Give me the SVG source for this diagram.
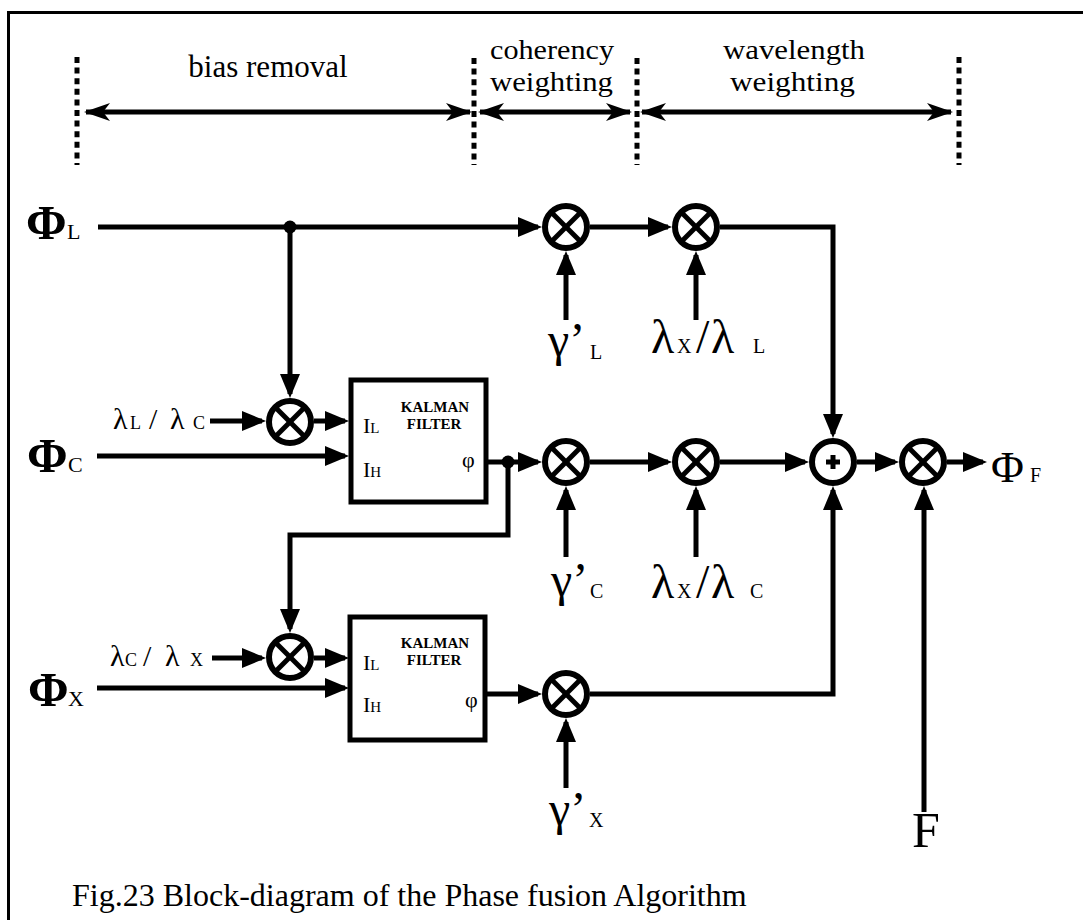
<svg xmlns="http://www.w3.org/2000/svg" width="1083" height="920" viewBox="0 0 1083 920">
<style>
text{font-family:"Liberation Serif","Times New Roman",serif;fill:#000}
.hd{font-size:31px;text-anchor:middle}
.hd2{font-size:28px}
.ln{fill:none;stroke:#000;stroke-width:5}
.dot{fill:none;stroke:#000;stroke-width:5;stroke-dasharray:6 4.6}
.mul circle,.add circle{fill:#fff;stroke:#000;stroke-width:6}
.mul line,.add line{stroke:#000;stroke-width:5}
.box rect{fill:#fff;stroke:#000;stroke-width:5}
.phi{font-size:49px;font-weight:bold}
.sub{font-size:22px;font-weight:normal}
.big{font-size:48px}
.bs{font-size:20px}
.lam{font-size:30px}
.ls{font-size:18px}
.kf{font-size:15px;font-weight:bold;text-anchor:middle}
.io{font-size:22px}
.ios{font-size:15px}
.cap{font-size:32px}
</style>
<defs>
<marker id="ah" viewBox="0 0 24 20" refX="20" refY="10" markerWidth="24" markerHeight="20" markerUnits="userSpaceOnUse" orient="auto"><path d="M0,0 L24,10 L0,20 Z" fill="#000"/></marker>
<marker id="dh" viewBox="0 0 26 18" refX="24" refY="9" markerWidth="26" markerHeight="18" markerUnits="userSpaceOnUse" orient="auto-start-reverse"><path d="M0,0 L26,9 L0,18 L7,9 Z" fill="#000"/></marker>
</defs>
<rect x="8.5" y="12.5" width="1100" height="1000" fill="#fff" stroke="#000" stroke-width="3"/>

<g id="header">
<line class="dot" x1="77" y1="57" x2="77" y2="165"/>
<line class="dot" x1="474" y1="58" x2="474" y2="165"/>
<line class="dot" x1="637" y1="58" x2="637" y2="165"/>
<line class="dot" x1="959" y1="57" x2="959" y2="165"/>
<path class="ln" d="M86,112 H470" marker-start="url(#dh)" marker-end="url(#dh)"/>
<path class="ln" d="M480,112 H630" marker-start="url(#dh)" marker-end="url(#dh)"/>
<path class="ln" d="M642,112 H951" marker-start="url(#dh)" marker-end="url(#dh)"/>
<text class="hd" x="268" y="77">bias removal</text>
<text class="hd2" x="490" y="59" textLength="124" lengthAdjust="spacingAndGlyphs">coherency</text>
<text class="hd2" x="490" y="91" textLength="123" lengthAdjust="spacingAndGlyphs">weighting</text>
<text class="hd2" x="723" y="59" textLength="142" lengthAdjust="spacingAndGlyphs">wavelength</text>
<text class="hd2" x="730" y="91" textLength="125" lengthAdjust="spacingAndGlyphs">weighting</text>
</g>

<g id="connectors">
<path class="ln" d="M98,227 H538" marker-end="url(#ah)"/>
<path class="ln" d="M290,227 V394" marker-end="url(#ah)"/>
<path class="ln" d="M590,227 H668" marker-end="url(#ah)"/>
<path class="ln" d="M720,227 H833 V434" marker-end="url(#ah)"/>
<path class="ln" d="M210,421 H262" marker-end="url(#ah)"/>
<path class="ln" d="M314,421 H345" marker-end="url(#ah)"/>
<path class="ln" d="M97,456 H345" marker-end="url(#ah)"/>
<path class="ln" d="M486,462 H538" marker-end="url(#ah)"/>
<path class="ln" d="M508,462 V535 H290 V629" marker-end="url(#ah)"/>
<path class="ln" d="M590,462 H668" marker-end="url(#ah)"/>
<path class="ln" d="M720,462 H805" marker-end="url(#ah)"/>
<path class="ln" d="M857,462 H895" marker-end="url(#ah)"/>
<path class="ln" d="M947,462 H983" marker-end="url(#ah)"/>
<path class="ln" d="M212,658 H262" marker-end="url(#ah)"/>
<path class="ln" d="M314,658 H345" marker-end="url(#ah)"/>
<path class="ln" d="M97,688 H345" marker-end="url(#ah)"/>
<path class="ln" d="M485,694 H538" marker-end="url(#ah)"/>
<path class="ln" d="M590,694 H833 V490" marker-end="url(#ah)"/>
<path class="ln" d="M566,320 V255" marker-end="url(#ah)"/>
<path class="ln" d="M696,320 V255" marker-end="url(#ah)"/>
<path class="ln" d="M566,557 V490" marker-end="url(#ah)"/>
<path class="ln" d="M696,557 V490" marker-end="url(#ah)"/>
<path class="ln" d="M566,788 V722" marker-end="url(#ah)"/>
<path class="ln" d="M924,812 V490" marker-end="url(#ah)"/>
<circle cx="290" cy="227" r="6.5" fill="#000"/>
<circle cx="508" cy="462" r="6.5" fill="#000"/>
</g>

<g id="in-phiL"><text class="phi" x="26" y="239">Φ<tspan class="sub" x="67">L</tspan></text></g>
<g id="in-phiC"><text class="phi" x="27" y="472">Φ<tspan class="sub" x="68">C</tspan></text></g>
<g id="in-phiX"><text class="phi" x="28" y="706">Φ<tspan class="sub" x="68">X</tspan></text></g>

<g id="lam-LC"><text y="429"><tspan class="lam" x="113">λ</tspan><tspan class="ls" x="130">L</tspan><tspan class="lam" x="149">/</tspan><tspan class="lam" x="170">λ</tspan><tspan class="ls" x="193">C</tspan></text></g>
<g id="lam-CX"><text y="666"><tspan class="lam" x="110">λ</tspan><tspan class="ls" x="125">C</tspan><tspan class="lam" x="143">/</tspan><tspan class="lam" x="165">λ</tspan><tspan class="ls" x="190">X</tspan></text></g>

<g id="mul-1" class="mul"><circle cx="290" cy="422" r="21"/><line x1="276" y1="408" x2="304" y2="436"/><line x1="304" y1="408" x2="276" y2="436"/></g>
<g id="mul-2" class="mul"><circle cx="290" cy="657" r="21"/><line x1="276" y1="643" x2="304" y2="671"/><line x1="304" y1="643" x2="276" y2="671"/></g>

<g id="kalman-1" class="box"><rect x="351" y="380" width="135" height="122"/>
<text class="kf" x="435" y="412">KALMAN</text><text class="kf" x="434" y="429">FILTER</text>
<text x="363" y="433"><tspan class="io">I</tspan><tspan class="ios">L</tspan></text>
<text x="363" y="477"><tspan class="io">I</tspan><tspan class="ios">H</tspan></text>
<text class="io" x="462" y="467">φ</text></g>
<g id="kalman-2" class="box"><rect x="350" y="617" width="135" height="123"/>
<text class="kf" x="435" y="648">KALMAN</text><text class="kf" x="434" y="665">FILTER</text>
<text x="363" y="670"><tspan class="io">I</tspan><tspan class="ios">L</tspan></text>
<text x="363" y="712"><tspan class="io">I</tspan><tspan class="ios">H</tspan></text>
<text class="io" x="465" y="707">φ</text></g>

<g id="mul-gL" class="mul"><circle cx="566" cy="227" r="21"/><line x1="552" y1="213" x2="580" y2="241"/><line x1="580" y1="213" x2="552" y2="241"/></g>
<g id="mul-wL" class="mul"><circle cx="696" cy="227" r="21"/><line x1="682" y1="213" x2="710" y2="241"/><line x1="710" y1="213" x2="682" y2="241"/></g>
<g id="mul-gC" class="mul"><circle cx="566" cy="462" r="21"/><line x1="552" y1="448" x2="580" y2="476"/><line x1="580" y1="448" x2="552" y2="476"/></g>
<g id="mul-wC" class="mul"><circle cx="696" cy="462" r="21"/><line x1="682" y1="448" x2="710" y2="476"/><line x1="710" y1="448" x2="682" y2="476"/></g>
<g id="mul-gX" class="mul"><circle cx="566" cy="694" r="21"/><line x1="552" y1="680" x2="580" y2="708"/><line x1="580" y1="680" x2="552" y2="708"/></g>
<g id="sum" class="add"><circle cx="833" cy="462" r="21"/><line x1="826" y1="462" x2="840" y2="462"/><line x1="833" y1="455" x2="833" y2="469"/></g>
<g id="mul-F" class="mul"><circle cx="923" cy="462" r="21"/><line x1="909" y1="448" x2="937" y2="476"/><line x1="937" y1="448" x2="909" y2="476"/></g>

<g id="lbl-gL"><text x="548" y="356"><tspan class="big">γ’</tspan><tspan class="bs" x="590" y="359">L</tspan></text></g>
<g id="lbl-wL"><text y="353"><tspan class="big" x="651">λ</tspan><tspan class="bs" x="677">X</tspan><tspan class="big" x="696">/</tspan><tspan class="big" x="711">λ</tspan><tspan class="bs" x="753">L</tspan></text></g>
<g id="lbl-gC"><text x="551" y="596"><tspan class="big">γ’</tspan><tspan class="bs" x="590" y="598">C</tspan></text></g>
<g id="lbl-wC"><text y="598"><tspan class="big" x="651">λ</tspan><tspan class="bs" x="677">X</tspan><tspan class="big" x="696">/</tspan><tspan class="big" x="711">λ</tspan><tspan class="bs" x="750">C</tspan></text></g>
<g id="lbl-gX"><text x="549" y="825"><tspan class="big">γ’</tspan><tspan class="bs" x="589" y="827">X</tspan></text></g>
<g id="lbl-F"><text x="912" y="847" font-size="50">F</text></g>
<g id="out-phiF"><text x="991" y="482" font-size="45">Φ<tspan x="1030" font-size="20">F</tspan></text></g>

<text class="cap" x="72" y="906">Fig.23 Block-diagram of the Phase fusion Algorithm</text>
</svg>
